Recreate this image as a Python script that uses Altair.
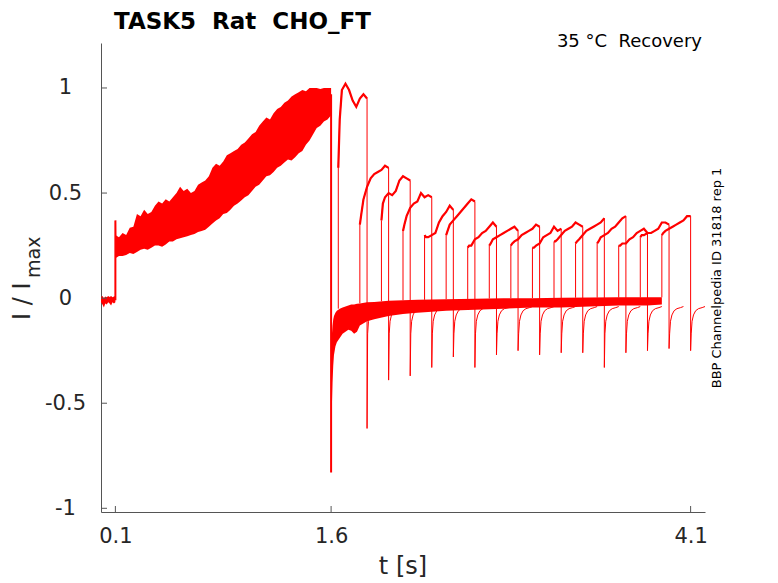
import altair as alt
import pandas as pd

RED = "#ff0000"
AX = "#555555"
TXT = "#262626"
FONT = "DejaVu Sans"

# ---- axis ticks ----
x_ticks = [0.1, 1.6, 4.1]
y_ticks = [-1, -0.5, 0, 0.5, 1]

# ---- holding baseline before the step (envelope of all sweeps) ----
base_t = [0.0, 0.01, 0.02, 0.03, 0.04, 0.05, 0.06, 0.07, 0.08, 0.09, 0.1]
base_lo = [-0.02, -0.03, -0.045, -0.025, -0.03, -0.02, -0.025, -0.035, -0.02, -0.025, -0.02]
base_hi = [0.005, 0.01, 0.0, 0.008, 0.004, 0.01, 0.006, 0.01, 0.004, 0.008, 0.01]

# ---- conditioning pulse 0.1 - 1.6 s (envelope of all sweeps) ----
ramp_t = [0.1, 0.125, 0.15, 0.175, 0.2, 0.225, 0.25, 0.275, 0.3, 0.325, 0.35, 0.375, 0.4,
          0.425, 0.45, 0.475, 0.5, 0.525, 0.55, 0.575, 0.6, 0.625, 0.65, 0.675, 0.7, 0.725,
          0.75, 0.775, 0.8, 0.825, 0.85, 0.875, 0.9, 0.925, 0.95, 0.975, 1.0, 1.025, 1.05,
          1.075, 1.1, 1.125, 1.15, 1.175, 1.2, 1.225, 1.25, 1.275, 1.3, 1.325, 1.35, 1.375,
          1.4, 1.425, 1.45, 1.475, 1.5, 1.525, 1.55, 1.575, 1.6]
ramp_lo = [0.19, 0.2, 0.2, 0.205, 0.215, 0.21, 0.22, 0.23, 0.235, 0.23, 0.24, 0.25, 0.25,
           0.245, 0.255, 0.27, 0.27, 0.28, 0.285, 0.29, 0.295, 0.3, 0.305, 0.315, 0.32, 0.325,
           0.34, 0.355, 0.37, 0.38, 0.4, 0.405, 0.42, 0.44, 0.45, 0.465, 0.48, 0.49, 0.51,
           0.53, 0.54, 0.56, 0.58, 0.585, 0.6, 0.62, 0.63, 0.645, 0.66, 0.655, 0.67, 0.69,
           0.7, 0.73, 0.75, 0.78, 0.81, 0.82, 0.84, 0.85, 0.87]
ramp_hi = [0.3, 0.29, 0.31, 0.3, 0.335, 0.34, 0.4, 0.39, 0.42, 0.4, 0.41, 0.44, 0.46,
           0.45, 0.47, 0.46, 0.48, 0.5, 0.53, 0.51, 0.52, 0.5, 0.51, 0.54, 0.55, 0.56,
           0.58, 0.62, 0.64, 0.63, 0.65, 0.68, 0.69, 0.7, 0.71, 0.73, 0.74, 0.76, 0.78,
           0.79, 0.82, 0.84, 0.86, 0.85, 0.88, 0.9, 0.91, 0.93, 0.94, 0.96, 0.97, 0.98,
           0.99, 0.985, 1.0, 1.0, 1.0, 0.995, 1.0, 1.0, 1.0]

# ---- tail after 1.6 s and inter-pulse baseline (envelope of all sweeps) ----
tail_t = [1.6, 1.603, 1.606, 1.61, 1.615, 1.62, 1.63, 1.64, 1.66, 1.68, 1.7, 1.72, 1.74,
          1.76, 1.78, 1.8, 1.85, 1.9, 2.0, 2.1, 2.2, 2.4, 2.6, 2.8, 3.0, 3.2, 3.4, 3.6,
          3.8, 3.9]
tail_lo = [-0.83, -0.62, -0.5, -0.4, -0.32, -0.27, -0.23, -0.21, -0.19, -0.17, -0.16, -0.15, -0.155,
           -0.17, -0.16, -0.13, -0.11, -0.1, -0.085, -0.075, -0.07, -0.06, -0.055, -0.05, -0.045,
           -0.045, -0.04, -0.035, -0.035, -0.03]
tail_hi = [-0.3, -0.22, -0.17, -0.13, -0.1, -0.085, -0.07, -0.06, -0.05, -0.045, -0.04, -0.035, -0.03,
           -0.03, -0.027, -0.025, -0.02, -0.018, -0.013, -0.01, -0.008, -0.005, -0.003, 0.0, 0.0,
           0.002, 0.003, 0.004, 0.004, 0.004]

# ---- step edges shared by all sweeps ----
edge_id = ["on", "on", "on", "off", "off"]
edge_t = [0.1, 0.1, 0.1015, 1.6, 1.6]
edge_v = [-0.01, 0.37, 0.25, 0.97, -0.83]

# ---- recovery test pulses (one per sweep) ----
pulse_start = [1.65, 1.8, 1.95, 2.1, 2.25, 2.4, 2.55, 2.7, 2.85, 3.0, 3.15, 3.3, 3.45, 3.6, 3.75, 3.9]
pulse_len = 0.2
pre_level = [-0.05, -0.025, -0.015, -0.01, -0.008, -0.005, -0.004, -0.002, 0.0, 0.0, 0.0, 0.002,
             0.002, 0.003, 0.003, 0.004]
pulse_dt = [0, 0.01, 0.025, 0.05, 0.075, 0.1, 0.125, 0.15, 0.175, 0.2]
pulse_vals = [
    [0.62, 0.85, 0.99, 1.02, 0.99, 0.94, 0.91, 0.95, 0.97, 0.95],
    [0.35, 0.40, 0.47, 0.53, 0.57, 0.59, 0.60, 0.61, 0.63, 0.62],
    [0.37, 0.45, 0.48, 0.50, 0.49, 0.51, 0.56, 0.58, 0.57, 0.56],
    [0.32, 0.35, 0.39, 0.43, 0.45, 0.46, 0.50, 0.48, 0.49, 0.48],
    [0.30, 0.29, 0.29, 0.30, 0.31, 0.36, 0.39, 0.41, 0.44, 0.42],
    [0.30, 0.32, 0.35, 0.37, 0.39, 0.41, 0.43, 0.45, 0.47, 0.46],
    [0.24, 0.25, 0.25, 0.28, 0.29, 0.31, 0.32, 0.34, 0.36, 0.34],
    [0.25, 0.26, 0.28, 0.29, 0.30, 0.31, 0.32, 0.33, 0.34, 0.32],
    [0.25, 0.26, 0.27, 0.28, 0.30, 0.31, 0.32, 0.33, 0.35, 0.34],
    [0.24, 0.24, 0.25, 0.26, 0.29, 0.30, 0.31, 0.34, 0.32, 0.33],
    [0.27, 0.27, 0.28, 0.30, 0.32, 0.33, 0.34, 0.36, 0.35, 0.34],
    [0.26, 0.27, 0.28, 0.30, 0.32, 0.33, 0.34, 0.35, 0.36, 0.38],
    [0.26, 0.27, 0.29, 0.30, 0.31, 0.33, 0.34, 0.36, 0.38, 0.39],
    [0.25, 0.25, 0.26, 0.26, 0.28, 0.29, 0.31, 0.32, 0.33, 0.31],
    [0.29, 0.30, 0.30, 0.31, 0.31, 0.32, 0.33, 0.36, 0.36, 0.35],
    [0.30, 0.31, 0.32, 0.33, 0.34, 0.35, 0.36, 0.37, 0.39, 0.39],
]
tail_min = [-0.62, -0.39, -0.37, -0.33, -0.28, -0.33, -0.27, -0.25, -0.27, -0.26, -0.26,
            -0.33, -0.26, -0.25, -0.24, -0.25]
rec_dt = [0.004, 0.01, 0.02, 0.035, 0.055, 0.08, 0.1]
rec_v = [-0.17, -0.11, -0.08, -0.06, -0.05, -0.045, -0.04]

# ---- tables built from the arrays above ----
df_base = pd.DataFrame({"t": base_t, "lo": base_lo, "hi": base_hi})
df_ramp = pd.DataFrame({"t": ramp_t, "lo": ramp_lo, "hi": ramp_hi})
df_tail = pd.DataFrame({"t": tail_t, "lo": tail_lo, "hi": tail_hi})
df_edge = pd.DataFrame({"id": edge_id, "t": edge_t, "v": edge_v, "o": list(range(len(edge_t)))})

rows, plateau = [], []
for k, s in enumerate(pulse_start):
    o = 0
    rows.append({"sweep": k, "o": o, "t": s, "v": pre_level[k]}); o += 1
    for dt, v in zip(pulse_dt, pulse_vals[k]):
        rows.append({"sweep": k, "o": o, "t": s + dt, "v": v})
        plateau.append({"sweep": k, "o": o, "t": s + dt, "v": v})
        o += 1
    e = s + pulse_len
    rows.append({"sweep": k, "o": o, "t": e, "v": tail_min[k]}); o += 1
    for dt, v in zip(rec_dt, rec_v):
        rows.append({"sweep": k, "o": o, "t": e + dt, "v": v}); o += 1
df_sweeps = pd.DataFrame(rows)
df_plateau = pd.DataFrame(plateau)

xs = alt.Scale(domain=[0, 4.2], nice=False, zero=False)
ys = alt.Scale(domain=[-1.0176, 1.214], nice=False, zero=False)

x_axis = alt.Axis(values=x_ticks, format=".1f", ticks=False, tickSize=0, grid=False,
                  domainColor=AX, domainWidth=1, labelFont=FONT, labelFontSize=21,
                  labelColor=TXT, labelPadding=13, labelFlush=False, labelOverlap=False,
                  title=None)
y_axis = alt.Axis(values=y_ticks, ticks=False, tickSize=0, grid=False, domainColor=AX,
                  domainWidth=1, labelFont=FONT, labelFontSize=21, labelColor=TXT,
                  labelAlign="center", labelBaseline="middle", labelPadding=36,
                  labelFlush=False, labelOverlap=False,
                  labelExpr="(datum.value < 0 ? '-' : '') + abs(datum.value)", title=None)

X = lambda f: alt.X(f, scale=xs, axis=x_axis)
Y = lambda f: alt.Y(f, scale=ys, axis=y_axis)

base_layer = alt.Chart(df_base).mark_area(color=RED, clip=True).encode(
    x=X("t:Q"), y=Y("lo:Q"), y2="hi:Q")
ramp_layer = alt.Chart(df_ramp).mark_area(color=RED, clip=True).encode(
    x=X("t:Q"), y=Y("lo:Q"), y2="hi:Q")
tail_layer = alt.Chart(df_tail).mark_area(color=RED, clip=True).encode(
    x=X("t:Q"), y=Y("lo:Q"), y2="hi:Q")
edge_layer = alt.Chart(df_edge).mark_line(color=RED, strokeWidth=2, clip=True).encode(
    x=X("t:Q"), y=Y("v:Q"), detail="id:N", order="o:Q")
sweep_layer = alt.Chart(df_sweeps).mark_line(color=RED, strokeWidth=1, clip=True).encode(
    x=X("t:Q"), y=Y("v:Q"), detail="sweep:N", order="o:Q")
plateau_layer = alt.Chart(df_plateau).mark_line(color=RED, strokeWidth=2.2, clip=True).encode(
    x=X("t:Q"), y=Y("v:Q"), detail="sweep:N", order="o:Q")

# inward tick marks (MATLAB style)
ytick_layer = alt.Chart(pd.DataFrame({"v": y_ticks})).mark_rule(color=AX, strokeWidth=1).encode(
    y=Y("v:Q"), x=alt.value(0), x2=alt.value(6))
xtick_layer = alt.Chart(pd.DataFrame({"t": x_ticks})).mark_rule(color=AX, strokeWidth=1).encode(
    x=X("t:Q"), y=alt.value(469), y2=alt.value(463))

one = pd.DataFrame({"a": [0]})

def label(text, x, y, size, weight="normal", angle=0, align="left", baseline="alphabetic", color="#000000"):
    return alt.Chart(one).mark_text(
        font=FONT, fontSize=size, fontWeight=weight, angle=angle, align=align,
        baseline=baseline, color=color,
    ).encode(x=alt.value(x), y=alt.value(y), text=alt.value(text))

title_l = label("TASK5\u00a0\u00a0Rat\u00a0\u00a0CHO_FT", 13, -14, 23, weight="bold")
cond_l = label("35 °C\u00a0\u00a0Recovery", 601, 4, 18, align="right")
id_l = label("BBP Channelpedia ID 31818 rep 1", 616, 235, 13, angle=270, align="center", baseline="middle")
xt_l = label("t [s]", 302, 531, 24, align="center", color=TXT)
yt_l = label("I / I", -71, 277, 24, angle=270, color=TXT)
ysub_l = label("max", -61, 235, 19, angle=270, color=TXT)

chart = alt.layer(
    base_layer, ramp_layer, tail_layer, edge_layer, sweep_layer, plateau_layer,
    ytick_layer, xtick_layer,
    title_l, cond_l, id_l, xt_l, yt_l, ysub_l,
).properties(
    width=604, height=469,
    autosize=alt.AutoSizeParams(type="none"),
    padding={"left": 93, "top": 35, "right": 65, "bottom": 70},
).configure_view(stroke=None)

chart.save("out.html", embed_options={"renderer": "svg", "actions": False})
